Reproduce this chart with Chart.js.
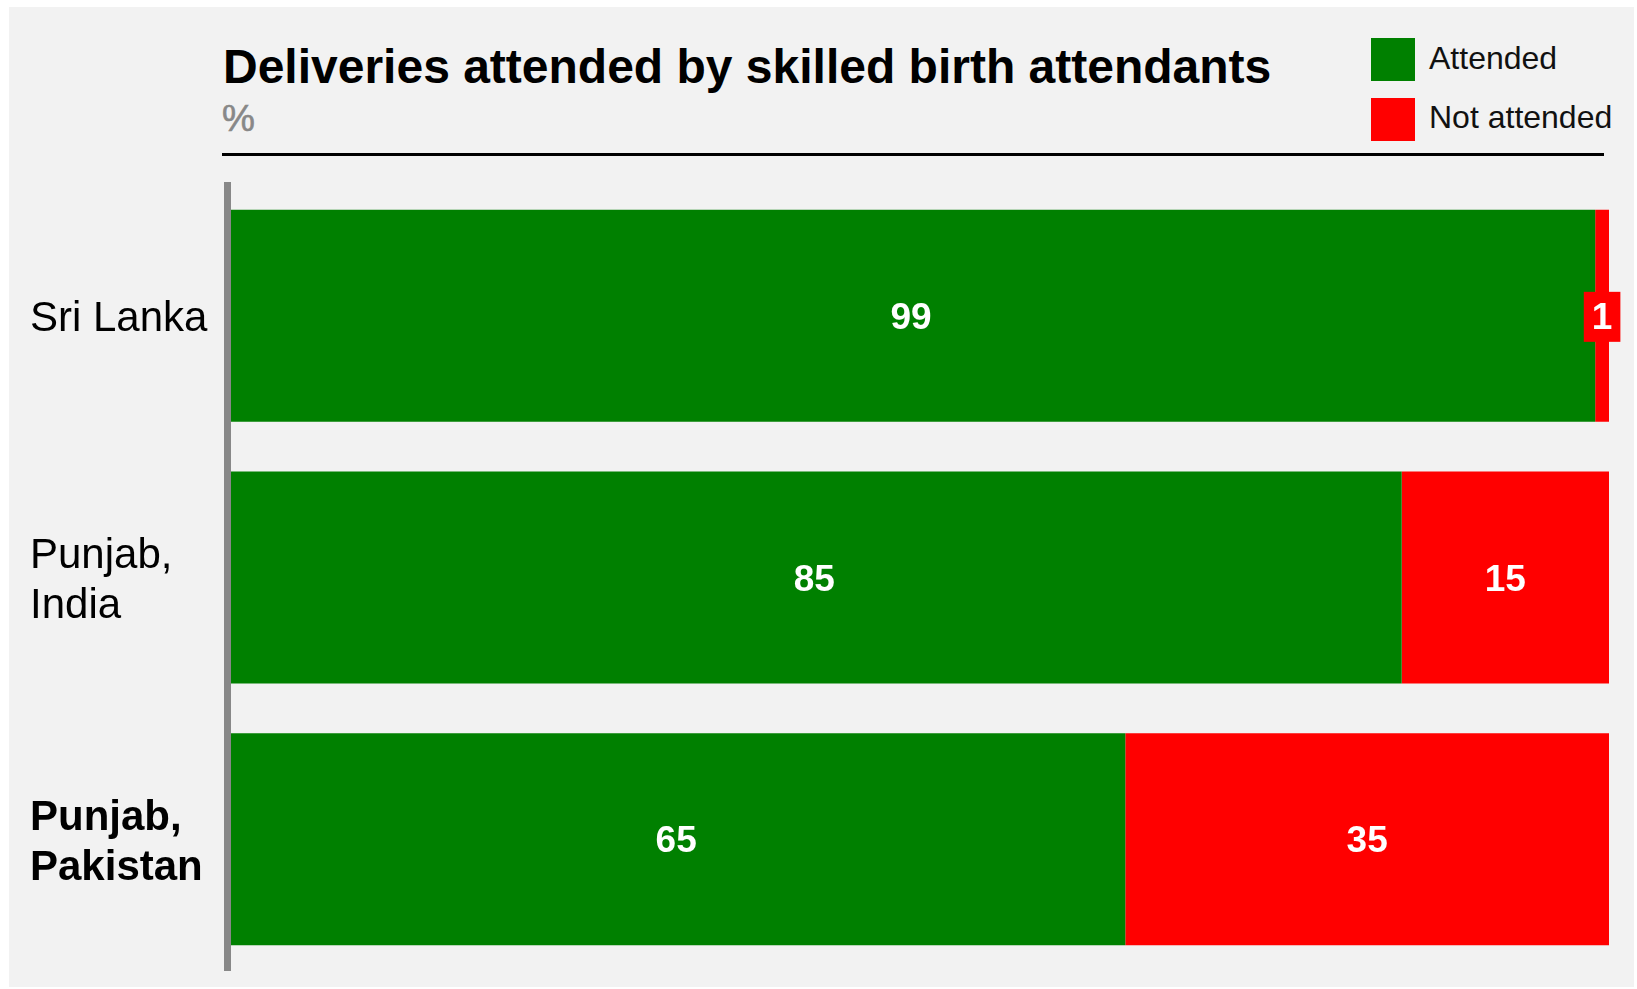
<!DOCTYPE html>
<html lang="en">
<head>
    <meta charset="UTF-8">
    <title>Deliveries attended by skilled birth attendants</title>
    <style>
        body {
            margin: 0;
            background: #ffffff;
            font-family: "Liberation Sans", Arial, Helvetica, sans-serif;
            width: 1637px;
            height: 989px;
            position: relative;
            overflow: hidden;
        }

        .panel {
            position: absolute;
            left: 9px;
            top: 7px;
            width: 1625px;
            height: 980px;
            background: #f2f2f2;
        }

        .title {
            position: absolute;
            left: 223px;
            top: 43px;
            margin: 0;
            font-size: 48px;
            line-height: 48px;
            font-weight: bold;
            color: #000;
            white-space: nowrap;
        }

        .unit {
            position: absolute;
            left: 222px;
            top: 100px;
            font-size: 37px;
            line-height: 37px;
            color: #888888;
            -webkit-text-stroke: 0.6px #888888;
        }

        .rule {
            position: absolute;
            left: 222px;
            top: 153px;
            width: 1382px;
            height: 3px;
            background: #000;
        }

        .legend-item {
            position: absolute;
            left: 1371px;
            height: 43px;
        }
        .legend-item .box {
            position: absolute;
            left: 0;
            top: 0;
            width: 44px;
            height: 43px;
        }
        .legend-item span {
            position: absolute;
            left: 58px;
            font-size: 32px;
            line-height: 32px;
            color: #111;
            white-space: nowrap;
        }

        .chart-container {
            position: absolute;
            left: 0;
            top: 0;
            width: 1637px;
            height: 989px;
        }
    </style>
</head>
<body>
    <div class="panel"></div>
    <h1 class="title">Deliveries attended by skilled birth attendants</h1>
    <div class="unit">%</div>
    <div class="rule"></div>

    <div class="legend-item" style="top: 38px;">
        <div class="box" style="background: #008000;"></div>
        <span style="top: 4px;">Attended</span>
    </div>
    <div class="legend-item" style="top: 98px;">
        <div class="box" style="background: #ff0000;"></div>
        <span style="top: 3px;">Not attended</span>
    </div>

    <div class="chart-container">
        <canvas id="birthChart"></canvas>
    </div>

    <script src="https://cdn.jsdelivr.net/npm/chart.js"></script>
    <script>
        // datos
        const regions = ['Sri Lanka', ['Punjab,', 'India'], ['Punjab,', 'Pakistan']];
        const attended = [99, 85, 65];
        const notAttended = [1, 15, 35];
        const seriesNames = ['Attended', 'Not attended'];
        const seriesColors = ['#008000', '#ff0000'];

        const FONT = '"Liberation Sans", Arial, Helvetica, sans-serif';

        // etiquetas blancas dentro de cada barra
        const barLabels = {
            id: 'barLabels',
            afterDatasetsDraw(chart) {
                const ctx = chart.ctx;
                ctx.save();
                ctx.font = 'bold 37px ' + FONT;
                ctx.textAlign = 'center';
                ctx.textBaseline = 'middle';
                chart.data.datasets.forEach((ds, di) => {
                    const meta = chart.getDatasetMeta(di);
                    meta.data.forEach((bar, i) => {
                        const text = String(ds.data[i]);
                        const cx = (bar.x + bar.base) / 2;
                        const cy = bar.y + 1;
                        const tw = ctx.measureText(text).width;
                        // si no cabe, caja de color detrás del número
                        if (tw + 10 > Math.abs(bar.x - bar.base)) {
                            ctx.fillStyle = ds.backgroundColor;
                            ctx.fillRect(cx - (tw + 16) / 2, cy - 25, tw + 16, 50);
                        }
                        ctx.fillStyle = '#ffffff';
                        ctx.fillText(text, cx, cy + 2);
                    });
                });
                ctx.restore();
            }
        };

        const chart = new Chart(document.getElementById('birthChart'), {
            type: 'bar',
            data: {
                labels: regions,
                datasets: [
                    { label: seriesNames[0], data: attended, backgroundColor: seriesColors[0] },
                    { label: seriesNames[1], data: notAttended, backgroundColor: seriesColors[1] }
                ]
            },
            options: {
                indexAxis: 'y',
                responsive: true,
                maintainAspectRatio: false,
                animation: false,
                layout: {
                    padding: { left: 30, top: 185, right: 28, bottom: 19 }
                },
                datasets: {
                    bar: {
                        borderWidth: 0,
                        barPercentage: 0.81,
                        categoryPercentage: 1
                    }
                },
                plugins: {
                    legend: { display: false },
                    title: { display: false },
                    tooltip: { enabled: false }
                },
                scales: {
                    x: {
                        stacked: true,
                        min: 0,
                        max: 100,
                        display: false
                    },
                    y: {
                        stacked: true,
                        grid: { display: false },
                        border: { display: true, color: '#888888', width: 7, z: 1 },
                        ticks: {
                            crossAlign: 'far',
                            color: '#000',
                            labelOffset: 4,
                            font: (c) => ({
                                family: FONT,
                                size: 42,
                                lineHeight: 1.2,
                                weight: c.index === 2 ? 'bold' : 'normal'
                            })
                        },
                        afterFit(scale) {
                            scale.width = 197;
                            scale.paddingTop = 0;
                            scale.paddingBottom = 0;
                        }
                    }
                }
            },
            plugins: [barLabels]
        });
    </script>
</body>
</html>
